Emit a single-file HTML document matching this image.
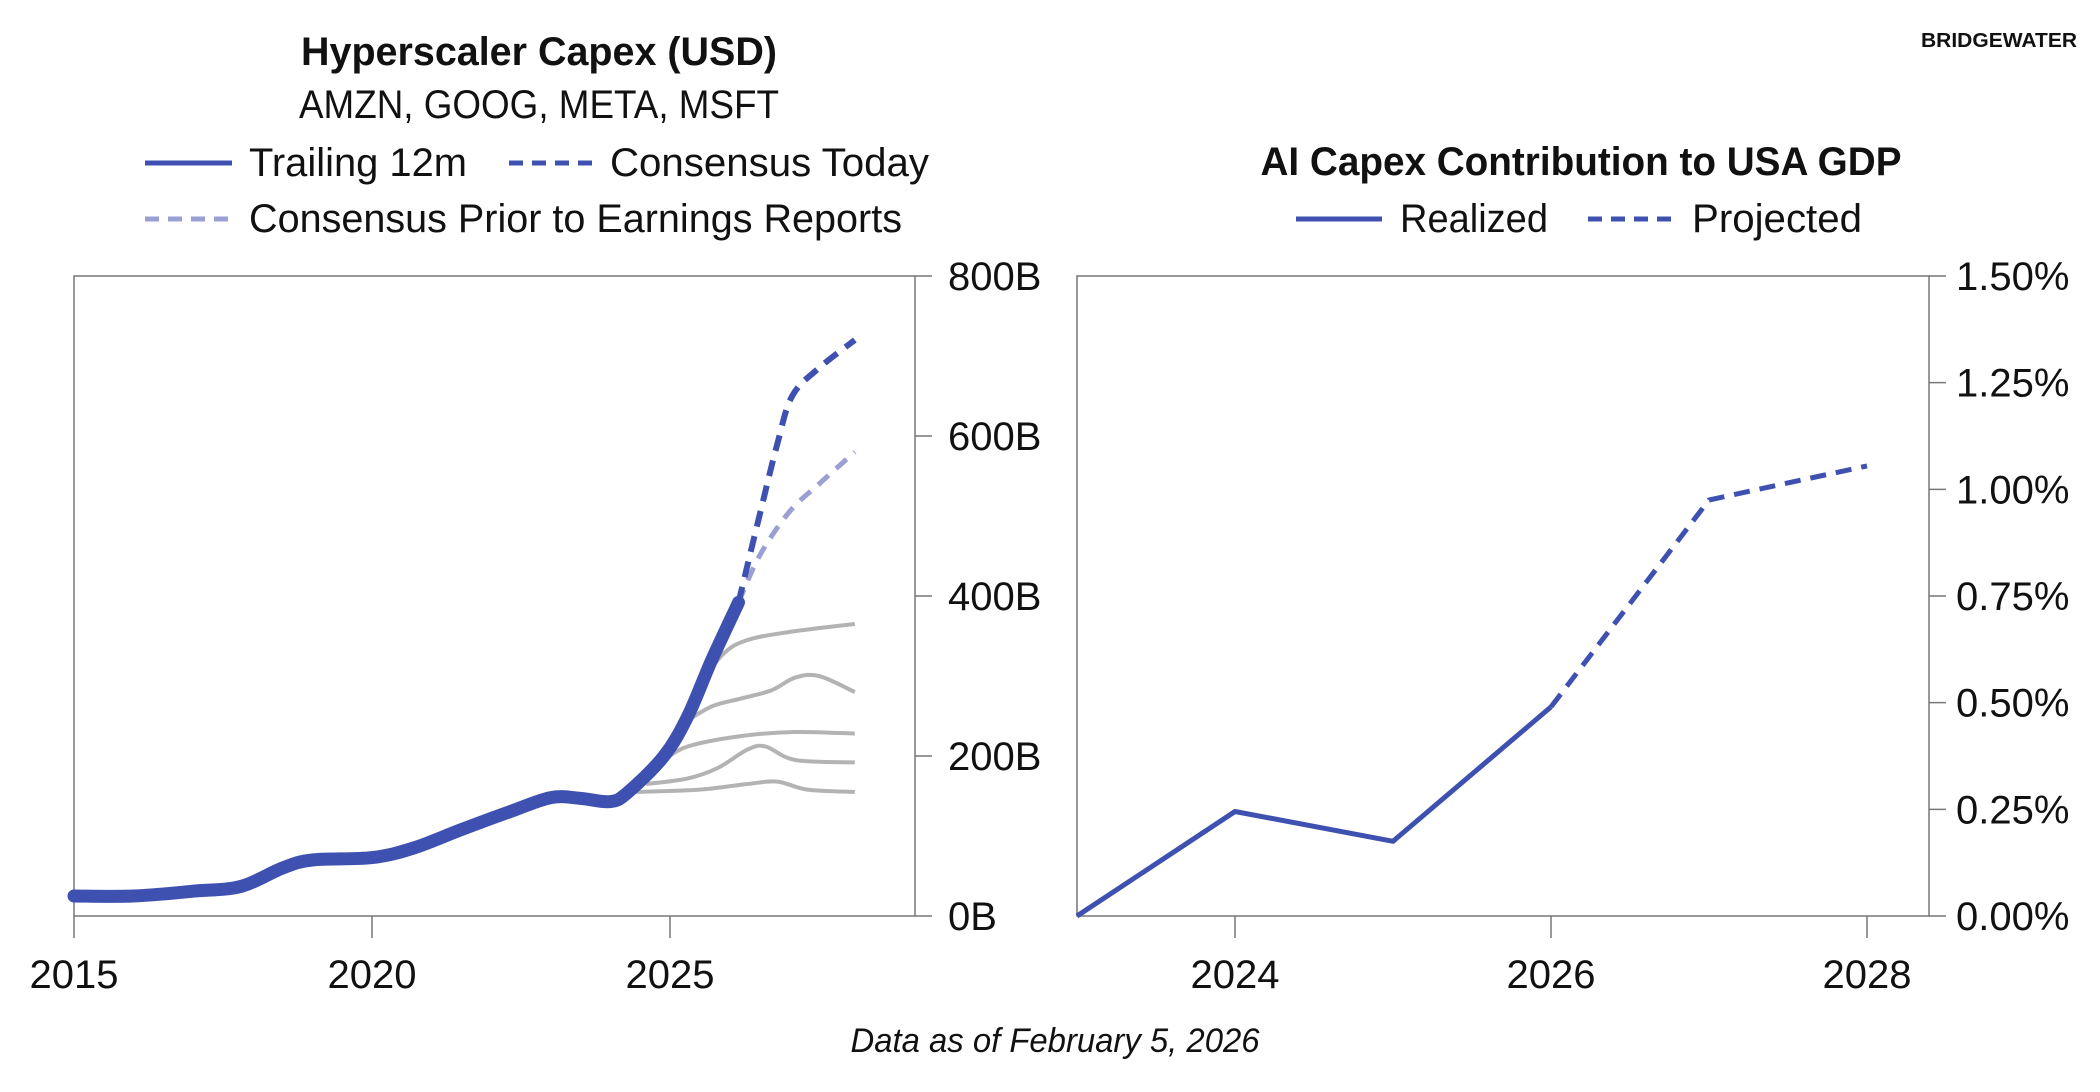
<!DOCTYPE html>
<html><head><meta charset="utf-8"><style>
html,body{margin:0;padding:0;background:#fff;}
svg{display:block;}
text{font-family:"Liberation Sans Narrow","Liberation Sans",sans-serif;fill:#111;}
</style></head><body>
<svg id="chart" width="2100" height="1092" viewBox="0 0 2100 1092">
<g>
<text x="539" y="65" font-size="40" font-weight="bold" text-anchor="middle" textLength="476" lengthAdjust="spacingAndGlyphs">Hyperscaler Capex (USD)</text>
<text x="539" y="118" font-size="40" text-anchor="middle" textLength="480" lengthAdjust="spacingAndGlyphs">AMZN, GOOG, META, MSFT</text>
<line x1="145" y1="163" x2="232" y2="163" stroke="#3f51b0" stroke-width="5"/>
<text x="249" y="176" font-size="40" textLength="218" lengthAdjust="spacingAndGlyphs">Trailing 12m</text>
<line x1="509" y1="163" x2="595" y2="163" stroke="#3f51b0" stroke-width="5" stroke-dasharray="14,9"/>
<text x="610" y="176" font-size="40" textLength="319" lengthAdjust="spacingAndGlyphs">Consensus Today</text>
<line x1="145" y1="219" x2="232" y2="219" stroke="#9a9fd4" stroke-width="5" stroke-dasharray="14,9"/>
<text x="249" y="232" font-size="40" textLength="653" lengthAdjust="spacingAndGlyphs">Consensus Prior to Earnings Reports</text>
</g>
<g>
<text x="1581" y="175" font-size="40" font-weight="bold" text-anchor="middle" textLength="641" lengthAdjust="spacingAndGlyphs">AI Capex Contribution to USA GDP</text>
<line x1="1296" y1="219" x2="1382" y2="219" stroke="#3f51b0" stroke-width="5"/>
<text x="1400" y="232" font-size="40" textLength="148" lengthAdjust="spacingAndGlyphs">Realized</text>
<line x1="1588" y1="219" x2="1676" y2="219" stroke="#3f51b0" stroke-width="5" stroke-dasharray="14,9"/>
<text x="1692" y="232" font-size="40" textLength="170" lengthAdjust="spacingAndGlyphs">Projected</text>
</g>
<text x="1999" y="47" font-size="20" font-weight="bold" text-anchor="middle" textLength="156" lengthAdjust="spacingAndGlyphs" font-family="Liberation Sans">BRIDGEWATER</text>
<text x="1055" y="1052" font-size="34" font-style="italic" text-anchor="middle" textLength="409" lengthAdjust="spacingAndGlyphs">Data as of February 5, 2026</text>
<g id="left"></g>
<g id="right"></g>
</svg>
<script>
// Left chart data
const trailYears = [2015,2016,2017,2017.8,2018.5,2019,2020,2020.7,2021.5,2022.3,2023,2023.5,2024,2024.3,2024.9,2025.3,2025.7,2026.15];
const trailVals = [25,25,31,37,60,70,73,85,108,130,148,147,143,155,200,250,320,392];
const todayYears = [2026.15,2026.5,2026.8,2027.05,2027.5,2028.1];
const todayVals = [392,500,590,650,685,720];
const priorYears = [2026.15,2026.5,2027.0,2027.5,2028.1];
const priorVals = [392,450,505,540,580];
const g1Years=[2024.4,2025.5,2026.3,2026.8,2027.3,2028.1]; const g1Vals=[155,158,165,168,158,155];
const g2Years=[2024.6,2025.3,2025.8,2026.3,2026.6,2027.1,2028.1]; const g2Vals=[165,172,185,208,212,195,192];
const g3Years=[2024.9,2025.3,2026.2,2027.1,2028.1]; const g3Vals=[195,212,225,230,228];
const g4Years=[2025.2,2025.7,2026.2,2026.7,2027.1,2027.5,2028.1]; const g4Vals=[240,262,272,282,298,300,280];
const g5Years=[2025.5,2025.9,2026.3,2027.0,2028.1]; const g5Vals=[290,328,345,355,365];
const leftTicks=[0,200,400,600,800];
const leftTickLabels=["0B","200B","400B","600B","800B"];
const leftXTicks=[2015,2020,2025];
// Right chart data
const rYears=[2023,2024,2025,2026];
const rVals=[0,0.245,0.175,0.49];
const pYears=[2026,2027,2028];
const pVals=[0.49,0.975,1.055];
const rightTicks=[0,0.25,0.5,0.75,1.0,1.25,1.5];
const rightTickLabels=["0.00%","0.25%","0.50%","0.75%","1.00%","1.25%","1.50%"];
const rightXTicks=[2024,2026,2028];

const NS="http://www.w3.org/2000/svg";
function mk(parent,tag,attrs){const e=document.createElementNS(NS,tag);for(const k in attrs)e.setAttribute(k,attrs[k]);parent.appendChild(e);return e;}
const top_=276,bot=916;
const L=document.getElementById('left');
const lx=y=>74+(y-2015)*59.6;
const ly=v=>bot-(v/800)*(bot-top_);
function lpath(xs,vs){
 const p=xs.map((x,i)=>[lx(x),ly(vs[i])]);
 let d='M'+p[0][0].toFixed(1)+','+p[0][1].toFixed(1);
 for(let i=0;i<p.length-1;i++){
  const p0=p[Math.max(0,i-1)],p1=p[i],p2=p[i+1],p3=p[Math.min(p.length-1,i+2)];
  const c1x=p1[0]+(p2[0]-p0[0])/6,c1y=p1[1]+(p2[1]-p0[1])/6;
  const c2x=p2[0]-(p3[0]-p1[0])/6,c2y=p2[1]-(p3[1]-p1[1])/6;
  d+='C'+c1x.toFixed(1)+','+c1y.toFixed(1)+' '+c2x.toFixed(1)+','+c2y.toFixed(1)+' '+p2[0].toFixed(1)+','+p2[1].toFixed(1);
 }
 return d;
}
let e=mk(L,'rect',{x:74,y:top_,width:915-74,height:bot-top_,fill:'none',stroke:'#777','stroke-width':1.5});


leftTicks.forEach((t,i)=>{
 e=mk(L,'line',{x1:915,x2:932,y1:ly(t),y2:ly(t),stroke:'#777','stroke-width':1.5});
 
 
 e=mk(L,'text',{x:948,y:ly(t)+14,'font-size':40});
 e.textContent=leftTickLabels[i];
 
 
});
leftXTicks.forEach(t=>{
 e=mk(L,'line',{x1:lx(t),x2:lx(t),y1:bot,y2:bot+22,stroke:'#777','stroke-width':1.5});
 
 
 e=mk(L,'text',{x:lx(t),y:988,'font-size':40,'text-anchor':'middle'});
 e.textContent=t;
 
 
});
[[g1Years,g1Vals],[g2Years,g2Vals],[g3Years,g3Vals],[g4Years,g4Vals],[g5Years,g5Vals]].forEach(g=>{
 e=mk(L,'path',{d:lpath(g[0],g[1]),fill:'none',stroke:'#b3b3b3','stroke-width':4,'stroke-linejoin':'round'});
 
 
});
e=mk(L,'path',{d:lpath(priorYears,priorVals),fill:'none',stroke:'#9a9fd4','stroke-width':5,'stroke-dasharray':'14,10'});


e=mk(L,'path',{d:lpath(todayYears,todayVals),fill:'none',stroke:'#3f51b0','stroke-width':6,'stroke-dasharray':'16,10'});


e=mk(L,'path',{d:lpath(trailYears,trailVals),fill:'none',stroke:'#3f51b0','stroke-width':13,'stroke-linejoin':'round','stroke-linecap':'round'});


const R=document.getElementById('right');
const rx=y=>1077+(y-2023)*158;
const ry=v=>bot-(v/1.5)*(bot-top_);
function rpath(xs,vs){return xs.map((x,i)=>(i?'L':'M')+rx(x).toFixed(1)+','+ry(vs[i]).toFixed(1)).join('');}
e=mk(R,'rect',{x:1077,y:top_,width:1929-1077,height:bot-top_,fill:'none',stroke:'#777','stroke-width':1.5});


rightTicks.forEach((t,i)=>{
 e=mk(R,'line',{x1:1929,x2:1946,y1:ry(t),y2:ry(t),stroke:'#777','stroke-width':1.5});
 
 
 e=mk(R,'text',{x:1956,y:ry(t)+14,'font-size':40});
 e.textContent=rightTickLabels[i];
 
 
});
rightXTicks.forEach(t=>{
 e=mk(R,'line',{x1:rx(t),x2:rx(t),y1:bot,y2:bot+22,stroke:'#777','stroke-width':1.5});
 
 
 e=mk(R,'text',{x:rx(t),y:988,'font-size':40,'text-anchor':'middle'});
 e.textContent=t;
 
 
});
e=mk(R,'path',{d:rpath(pYears,pVals),fill:'none',stroke:'#3f51b0','stroke-width':5,'stroke-dasharray':'16,10'});


e=mk(R,'path',{d:rpath(rYears,rVals),fill:'none',stroke:'#3f51b0','stroke-width':5,'stroke-linejoin':'round'});


</script>
</body></html>
